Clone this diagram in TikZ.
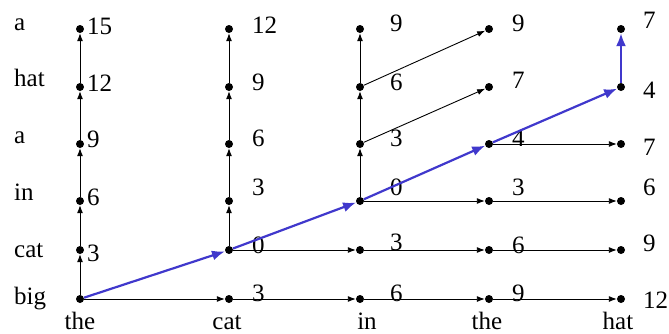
\documentclass[tikz,border=0pt]{standalone}
\usepackage{fontspec}
\setmainfont{Liberation Serif}
\usetikzlibrary{arrows.meta}
\definecolor{pathblue}{RGB}{64,56,204}
\begin{document}
\begin{tikzpicture}[x=1pt,y=-1pt,
  dot/.style={circle,fill=black,inner sep=0pt,minimum size=8pt},
  arr/.style={-{Latex[length=8pt,width=6pt]},line width=0.9pt},
  barr/.style={-{Latex[length=13pt,width=10pt]},line width=2.2pt,draw=pathblue,fill=pathblue},
  num/.style={anchor=base west,inner sep=0pt,font=\fontsize{25}{30}\selectfont},
  rowword/.style={anchor=base west,inner sep=0pt,font=\fontsize{25}{30}\selectfont},
  colword/.style={anchor=base,inner sep=0pt,font=\fontsize{25}{30}\selectfont}]
\useasboundingbox (0,0) rectangle (669,333);
% dots
\foreach \c/\x in {0/80,1/229,2/360,3/489,4/621}
  \foreach \r/\y in {0/299,1/250,2/201,3/144,4/87,5/29}
    \node[dot] (d\c\r) at (\x,\y) {};
% row words
\node[rowword] (w5) at (14,30) {a};
\node[rowword] (w4) at (14,86) {hat};
\node[rowword] (w3) at (14,143) {a};
\node[rowword] (w2) at (14,200) {in};
\node[rowword] (w1) at (14,257) {cat};
\node[rowword] (w0) at (14,304) {big};
% column words
\node[colword] (b0) at (80,329) {the};
\node[colword] (b1) at (227,329) {cat};
\node[colword] (b2) at (367,329) {in};
\node[colword] (b3) at (487,329) {the};
\node[colword] (b4) at (618,329) {hat};
% numbers
\foreach \c/\r/\t/\x/\y in {
  0/1/3/87/261, 0/2/6/87/205, 0/3/9/87/147, 0/4/12/87/91, 0/5/15/87/34,
  1/0/3/252/301.5, 1/1/0/252/253.5, 1/2/3/252/195.5, 1/3/6/252/146.5, 1/4/9/252/90.5, 1/5/12/252/33.5,
  2/0/6/390/301.5, 2/1/3/390/250.5, 2/2/0/390/195.5, 2/3/3/390/146.5, 2/4/6/390/90.5, 2/5/9/390/31.5,
  3/0/9/512/301.5, 3/1/6/512/253.5, 3/2/3/512/195.5, 3/3/4/512/146.5, 3/4/7/512/88.5, 3/5/9/512/31.5,
  4/0/12/643/308.5, 4/1/9/643/251.5, 4/2/6/643/195.5, 4/3/7/643/155.5, 4/4/4/643/98.5, 4/5/7/643/28.5}
  \node[num] (n\c\r) at (\x,\y) {\t};
% black vertical arrows
\foreach \a/\b in {d00/d01,d01/d02,d02/d03,d03/d04,d04/d05,
                   d11/d12,d12/d13,d13/d14,d14/d15,
                   d22/d23,d23/d24,d24/d25}
  \draw[arr] (\a) -- (\b);
% black horizontal and diagonal arrows
\foreach \a/\b in {d00/d10,d10/d20,d20/d30,d30/d40,
                   d11/d21,d21/d31,d31/d41,
                   d22/d32,d32/d42,
                   d33/d43,
                   d23/d34,d24/d35}
  \draw[arr] (\a) -- (\b);
% blue path
\foreach \a/\b in {d00/d11,d11/d22,d22/d33,d33/d44,d44/d45}
  \draw[barr] (\a) -- (\b);
\end{tikzpicture}
\end{document}
